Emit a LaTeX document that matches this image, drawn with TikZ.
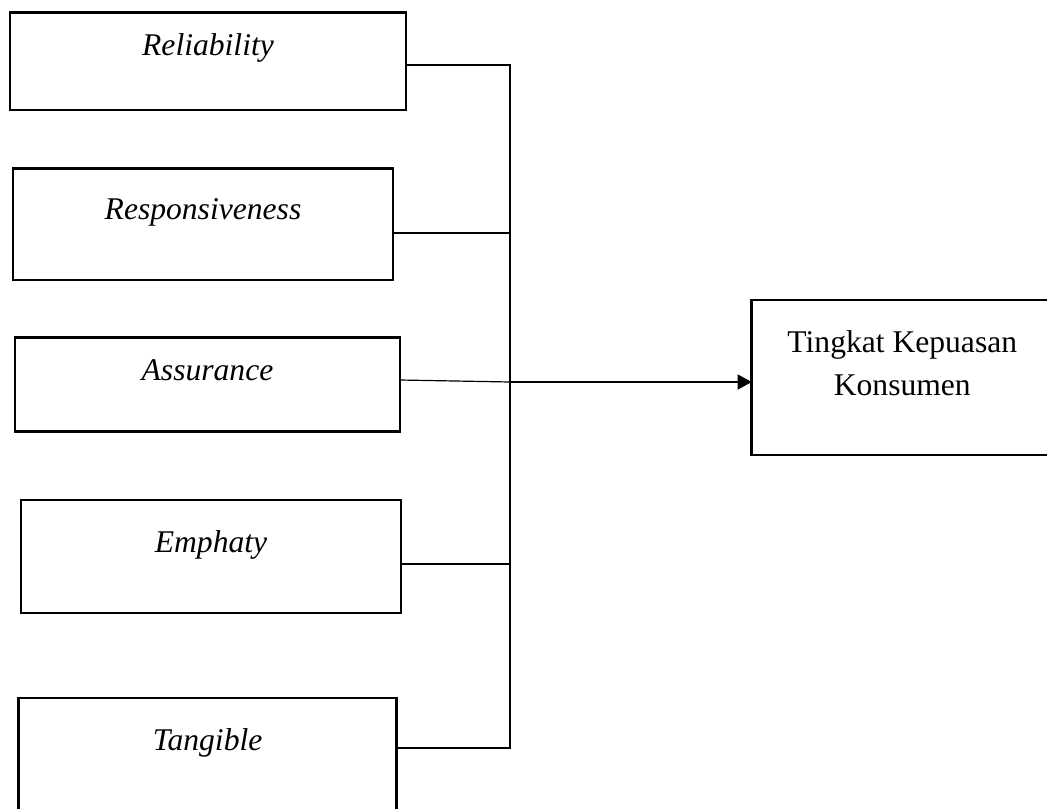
\documentclass[tikz,border=0pt]{standalone}
\usepackage{fontspec}
\setmainfont{Liberation Serif}
\usetikzlibrary{arrows.meta}

\tikzset{
  factor/.style 2 args={draw, line width=1.3pt, inner sep=0pt, outer sep=0pt,
    anchor=north west, font=\fontsize{15.8}{21}\selectfont\itshape,
    text height=#1, text depth=#2},
  link/.style={line width=0.6pt, line cap=rect},
}

\begin{document}
\begin{tikzpicture}[x=0.5pt, y=-0.5pt]
  \useasboundingbox (0, 0) rectangle (1047, 808);
  \clip (0, 0) rectangle (1047, 808);
  % draw the five service quality boxes
  \node[factor={21.6pt}{26.9pt}, minimum width=198pt] (rel) at (10, 12.8)
  {Reliability};
  \node[factor={25.5pt}{30.1pt}, minimum width=190pt] (res) at (13, 168.6)
  {Responsiveness};
  \node[factor={21.35pt}{25.85pt}, minimum width=192.5pt] (ass) at (15, 337.3)
  {Assurance};
  \node[factor={26pt}{30.5pt}, minimum width=190pt] (emp) at (21, 500)
  {Emphaty};
  \node[factor={26pt}{31pt}, minimum width=189pt] (tan) at (18.6, 698)
  {Tangible};
  % draw the satisfaction box
  \node[draw, line width=1.3pt, inner sep=0pt, outer sep=0pt, anchor=north west,
  align=center, font=\fontsize{15.8}{21.15}\selectfont, text height=47.5pt,
  text depth=30pt, minimum width=150.6pt] (tkk) at (751.7, 300)
  {Tingkat Kepuasan\\Konsumen};
  % draw the bus line and its branches
  \coordinate (j1) at (510, 65);
  \coordinate (j2) at (510, 233);
  \coordinate (j3) at (510, 382);
  \coordinate (j4) at (510, 564);
  \coordinate (j5) at (510, 748);
  \draw[link] (j1) -- (j5);
  \draw[link] (rel.east |- j1) -- (j1);
  \draw[link] (res.east |- j2) -- (j2);
  \draw[link] (ass.base east) -- (j3);
  \draw[link] (emp.east |- j4) -- (j4);
  \draw[link] (tan.east |- j5) -- (j5);
  % draw the arrow into the satisfaction box
  \draw[link, -{Triangle[length=7pt, width=7.5pt]}] (j3) -- (tkk.west |- j3);
\end{tikzpicture}
\end{document}
